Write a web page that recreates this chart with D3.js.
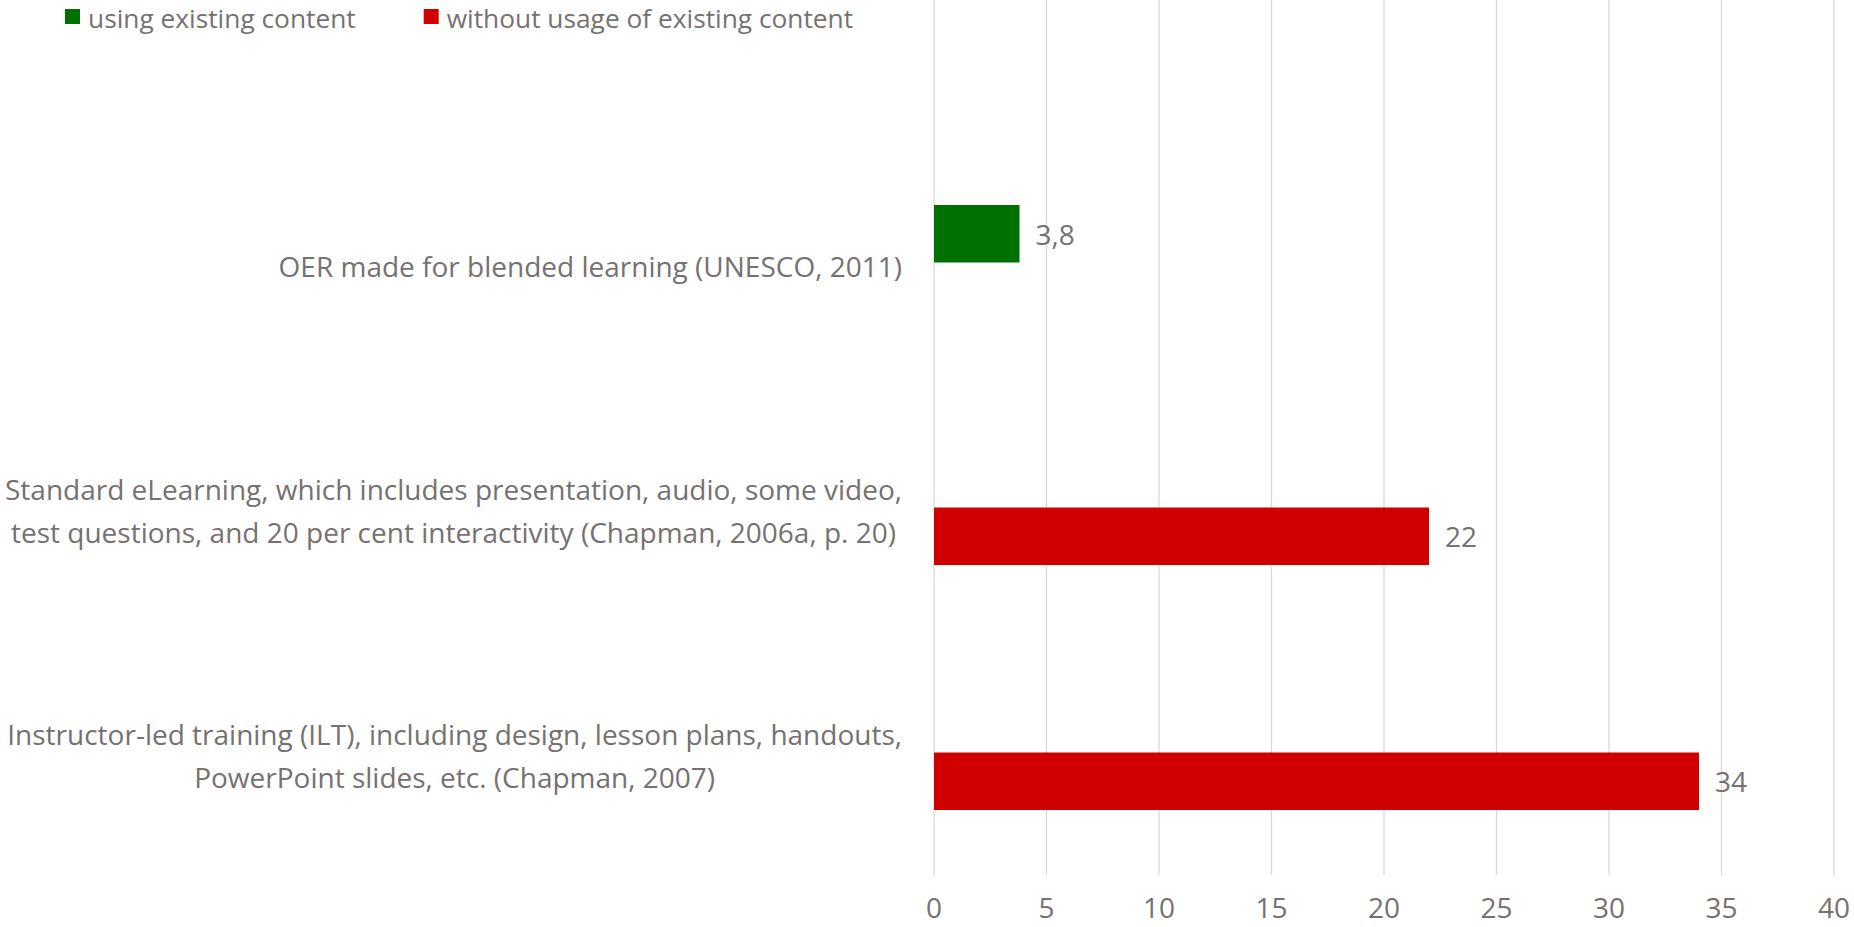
<!DOCTYPE html>
<html><head><meta charset="utf-8">
<script src="https://cdn.jsdelivr.net/npm/d3@7"></script>
<style>html,body{margin:0;padding:0;background:#fff;overflow:hidden}</style>
</head><body>
<svg id="chart" width="1854" height="927"></svg>
<script>
const categories = [
  "OER made for blended learning (UNESCO, 2011)",
  "Standard eLearning, which includes presentation, audio, some video,\ntest questions, and 20 per cent interactivity (Chapman, 2006a, p. 20)",
  "Instructor-led training (ILT), including design, lesson plans, handouts,\nPowerPoint slides, etc. (Chapman, 2007)"
];
const seriesNames = ["using existing content", "without usage of existing content"];
const usingExisting = [3.8, null, null];
const withoutExisting = [null, 22, 34];
const xTicks = [0, 5, 10, 15, 20, 25, 30, 35, 40];
const seriesColors = ["#007000", "#d00000"];

const FONT = "'Open Sans', sans-serif";
const FS = 28;
const TXT = "#767171";

const svg = d3.select("#chart");
const plot = {left: 934, right: 1834, top: 140, bottom: 875};

const x = d3.scaleLinear().domain([0, 40]).range([plot.left, plot.right]);
const y = d3.scaleBand().domain(categories).range([plot.top, plot.bottom]).padding(0);
const ys = d3.scaleBand().domain(seriesNames).range([0, y.bandwidth()]).paddingInner(0).paddingOuter(1.13);

// gridlines
svg.append("g").selectAll("line").data(xTicks).join("line")
  .attr("x1", d => x(d)).attr("x2", d => x(d))
  .attr("y1", 0).attr("y2", plot.bottom)
  .attr("stroke", "#d9d9d9").attr("stroke-width", 1.3);

// x tick labels
svg.append("g").selectAll("text").data(xTicks).join("text")
  .attr("x", d => x(d)).attr("y", 918)
  .attr("text-anchor", "middle")
  .attr("font-family", FONT).attr("font-size", FS).attr("fill", TXT)
  .text(d => d);

const locale = d3.formatLocale({decimal: ",", thousands: ".", grouping: [3], currency: ["", ""]});
const fmt = locale.format(".2~f");

const series = [usingExisting, withoutExisting];
series.forEach((vals, si) => {
  const data = categories.map((c, i) => ({c, v: vals[i]})).filter(d => d.v != null);
  const g = svg.append("g");
  g.selectAll("rect").data(data).join("rect")
    .attr("x", x(0)).attr("width", d => x(d.v) - x(0))
    .attr("y", d => y(d.c) + ys(seriesNames[si]))
    .attr("height", ys.bandwidth())
    .attr("fill", seriesColors[si]);
  g.selectAll("text").data(data).join("text")
    .attr("x", d => x(d.v) + 16)
    .attr("y", d => y(d.c) + ys(seriesNames[si]) + ys.bandwidth() / 2)
    .attr("dominant-baseline", "central")
    .attr("font-family", FONT).attr("font-size", FS).attr("fill", TXT)
    .text(d => fmt(d.v));
});

// category labels: block right-aligned, lines centered in block
const labelRight = 902, lineH = 42.5;
categories.forEach(c => {
  const lines = c.split("\n");
  const t = svg.append("text")
    .attr("font-family", FONT).attr("font-size", FS).attr("fill", TXT)
    .attr("text-anchor", "middle").attr("dominant-baseline", "central");
  const cy = y(c) + y.bandwidth() / 2 + 3;
  const spans = lines.map((l, i) => t.append("tspan")
    .attr("y", cy + (i - (lines.length - 1) / 2) * lineH).text(l));
  const bw = d3.max(spans, s => s.node().getComputedTextLength());
  spans.forEach(s => s.attr("x", labelRight - bw / 2));
});

// legend
const leg = svg.append("g");
let lx = 65;
seriesNames.forEach((n, i) => {
  leg.append("rect").attr("x", lx).attr("y", 9).attr("width", 15).attr("height", 15).attr("fill", seriesColors[i]);
  const t = leg.append("text").attr("x", lx + 23).attr("y", 18).attr("dominant-baseline", "central")
    .attr("font-family", FONT).attr("font-size", 26.3).attr("fill", TXT).text(n);
  lx = lx + 23 + t.node().getComputedTextLength() + 68;
});
</script>
</body></html>
